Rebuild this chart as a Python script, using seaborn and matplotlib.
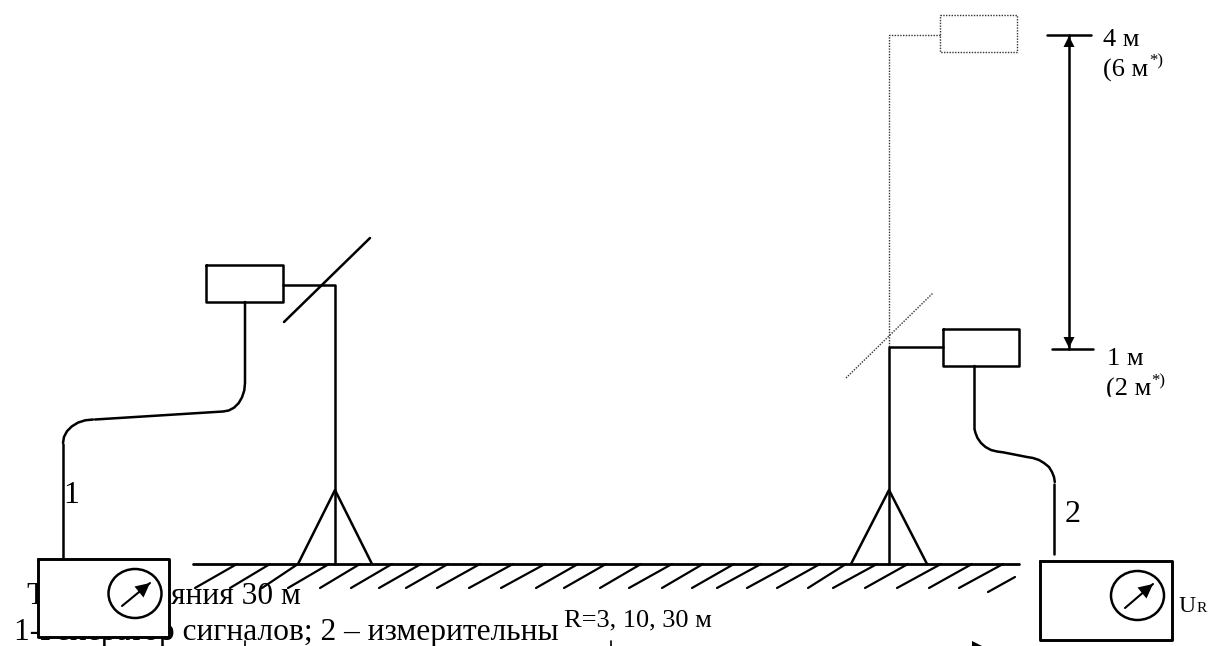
# Схема измерения: антенны на штативах над поверхностью земли

import matplotlib
matplotlib.use('Agg')
import matplotlib.pyplot as plt
from matplotlib.patches import Ellipse, Polygon
import seaborn as sns

# Земля и штриховка
ground_x = [193, 1019]
ground_y = [564, 564]
hatch_top_x = [237, 270, 298, 329, 360, 392, 421, 448, 480, 513, 545, 578, 606,
               641, 672, 703, 734, 761, 791, 820, 846, 877, 908, 941, 972, 1003]
hatch_bottom_x = [195, 230, 262, 288, 320, 351, 379, 406, 437, 469, 501, 536, 564,
                  600, 629, 662, 692, 717, 747, 777, 808, 833, 865, 897, 929, 959]
hatch_top_y = 564
hatch_bottom_y = 588
hatch_last_x = [988, 1015]
hatch_last_y = [592, 577]

# Левая антенна
left_box_x = [206, 283, 283, 206, 206]
left_box_y = [265, 265, 302, 302, 265]
left_arm_x = [283, 335, 335]
left_arm_y = [285, 285, 564]
left_dipole_x = [284, 370]
left_dipole_y = [322, 238]
left_tripod_x = [298, 335, 372]
tripod_y = [564, 490, 564]

# Левый кабель
cable1a_x = [245, 245, 244.3, 242, 238.6, 234, 228.7, 223, 95]
cable1a_y = [302, 383, 390.4, 397.3, 403.2, 407.7, 410.5, 411.5, 419.5]
cable1b_x = [93, 85.2, 78, 71.8, 67, 64, 63]
cable1b_y = [419.5, 420.3, 422.6, 426.4, 431.2, 436.9, 443]
cable1c_x = [62.5, 62.5]
cable1c_y = [444, 559]

# Правая антенна
right_box_x = [943, 1019, 1019, 943, 943]
right_box_y = [329, 329, 366, 366, 329]
right_arm_x = [943, 889, 889]
right_arm_y = [347, 347, 564]
right_tripod_x = [851, 889, 927]

# Правый кабель
cable2a_x = [974.5, 974.5, 975.5, 977.5, 981, 985.5, 991, 997, 1003, 1027, 1033, 1039, 1044, 1049, 1052, 1054, 1054.8]
cable2a_y = [366, 429, 433, 438, 443, 447, 450, 451.5, 452.3, 457, 458, 460, 463, 467, 472, 477, 482]
cable2b_x = [1054, 1054]
cable2b_y = [484, 554]

# Верхнее положение антенны (пунктир)
upper_box_x = [940, 1017, 1017, 940, 940]
upper_box_y = [15, 15, 52, 52, 15]
upper_arm_x = [940, 889, 889]
upper_arm_y = [35, 35, 347]
upper_dipole_x = [846, 933]
upper_dipole_y = [378, 293]

# Размер по высоте
height_x = [1069, 1069]
height_y = [35, 349]
mark_top_x = [1047, 1091]
mark_top_y = [35, 35]
mark_low_x = [1052, 1093]
mark_low_y = [349, 349]

# Приборы
gen_box_x = [38, 169, 169, 38, 38]
gen_box_y = [559, 559, 637, 637, 559]
gen_needle_x = [122, 150]
gen_needle_y = [606, 583]
gen_dial = (135, 593.5)
rec_box_x = [1040, 1172, 1172, 1040, 1040]
rec_box_y = [561, 561, 640, 640, 561]
rec_needle_x = [1125, 1153]
rec_needle_y = [608, 584]
rec_dial = (1137.5, 595.5)

# Обрезанные снизу фрагменты
clipped_x = [245, 611]
clipped_y = [641, 641]

sns.set_theme(style='white')
plt.rcParams['font.family'] = ['Liberation Serif', 'DejaVu Serif']
plt.rcParams['text.color'] = 'black'

fig, ax = plt.subplots(figsize=(12.11, 6.46), dpi=100)
ax.set_position([0, 0, 1, 1])
ax.set_xlim(0, 1211)
ax.set_ylim(646, 0)
ax.axis('off')


def linha(xs, ys, lw=1.8, color='black', ls='-', z=4):
    sns.lineplot(x=xs, y=ys, sort=False, estimator=None, color=color, linewidth=lw,
                 linestyle=ls, zorder=z, legend=False, ax=ax)


def seta(x, y, dx, dy, z=6):
    # ponta de seta apontando para (x, y)
    nx, ny = -dy * 0.5, dx * 0.5
    ax.add_patch(Polygon([(x, y), (x - dx + nx, y - dy + ny), (x - dx - nx, y - dy - ny)],
                         closed=True, color='black', lw=0, zorder=z))


# Пунктирные линии
for xs, ys in [(upper_box_x, upper_box_y), (upper_arm_x, upper_arm_y), (upper_dipole_x, upper_dipole_y)]:
    linha(xs, ys, lw=1.0, color='#333333', ls=(0, (1, 1)), z=2)

# Основные линии
linha(ground_x, ground_y, lw=2.0)
for top, bottom in zip(hatch_top_x, hatch_bottom_x):
    linha([top, bottom], [hatch_top_y, hatch_bottom_y], lw=1.6)
linha(hatch_last_x, hatch_last_y, lw=1.6)

for xs, ys in [(left_box_x, left_box_y), (left_arm_x, left_arm_y), (left_dipole_x, left_dipole_y),
               (left_tripod_x, tripod_y), (cable1a_x, cable1a_y), (cable1b_x, cable1b_y),
               (cable1c_x, cable1c_y), (right_box_x, right_box_y), (right_arm_x, right_arm_y),
               (right_tripod_x, tripod_y), (cable2a_x, cable2a_y), (cable2b_x, cable2b_y),
               (height_x, height_y), (mark_top_x, mark_top_y), (mark_low_x, mark_low_y)]:
    linha(xs, ys)

seta(height_x[0], height_y[0] + 1, 0, -11)
seta(height_x[1], height_y[1] - 1, 0, 11)

# Приборы закрывают текст снизу
for bx, by, nx, ny, dial in [(gen_box_x, gen_box_y, gen_needle_x, gen_needle_y, gen_dial),
                             (rec_box_x, rec_box_y, rec_needle_x, rec_needle_y, rec_dial)]:
    ax.fill(bx, by, color='white', zorder=3)
    linha(bx, by, lw=2.1, z=5)
    ax.add_patch(Ellipse(dial, 53, 49, fill=False, edgecolor='black', lw=1.8, zorder=5))
    linha(nx, ny, lw=1.5, z=5)
    seta(nx[1], ny[1], 11, -9)

# Подписи
ax.text(63, 503, '1', fontsize=23, ha='left', va='baseline', zorder=2)
ax.text(1065, 522, '2', fontsize=23, ha='left', va='baseline', zorder=2)
ax.text(1103, 46, '4 м', fontsize=19, va='baseline')
ax.text(1103, 77, '(6 м', fontsize=19, va='baseline')
ax.text(1149, 65, '*)', fontsize=12, va='baseline')
ax.text(1107, 365, '1 м', fontsize=19, va='baseline')
ax.text(1106, 396, '(2 м', fontsize=19, va='baseline')
ax.text(1151, 385, '*)', fontsize=12, va='baseline')
ax.fill([1095, 1200, 1200, 1095], [397, 397, 415, 415], color='white', zorder=3)
ax.text(1178, 612, 'U', fontsize=17, va='baseline')
ax.text(1197, 612, 'R', fontsize=11, va='baseline')

ax.text(26, 604, 'Т', fontsize=22.7, va='baseline', zorder=2)
ax.text(301, 604, 'яния 30 м', fontsize=22.7, ha='right', va='baseline', zorder=2)
ax.text(14, 640, '1-Генератор сигналов; 2 – измерительны', fontsize=22.7, va='baseline', zorder=2)
ax.text(564, 626, 'R=3, 10, 30 м', fontsize=19, va='baseline', zorder=2)

for cx, cy in zip(clipped_x, clipped_y):
    linha([cx, cx], [cy, 646], lw=1.2)
seta(1000, 655, 28, 0)

fig.savefig('out.png', dpi=100)
